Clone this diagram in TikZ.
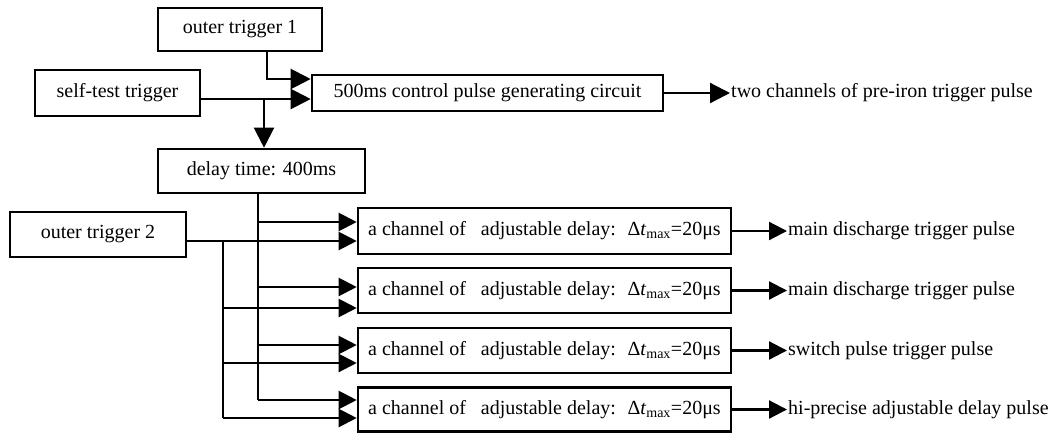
\documentclass[tikz,border=0pt]{standalone}
\usepackage{fontspec}
\setmainfont{Liberation Serif}
\usetikzlibrary{arrows.meta}
\newcommand\dtmax{Δ\textit{t}\textsubscript{max}=20μs}
\begin{document}
\begin{tikzpicture}[x=1pt,y=-1pt,
  box/.style={draw,line width=2.6pt,inner sep=0pt,font=\fontsize{20}{24}\selectfont},
  lbl/.style={anchor=west,inner sep=1pt,font=\fontsize{20}{24}\selectfont},
  wire/.style={line width=2.2pt},
  arr/.style={wire,-{Triangle[length=20pt,width=20pt]}},
  arrs/.style={wire,-{Triangle[length=18pt,width=18pt]}},
]
\useasboundingbox (0,0) rectangle (1049,434);

% trigger sources and first stage
\node[box,minimum width=164pt,minimum height=43pt] (ot1) at (240,29.5) {outer trigger 1};
\node[box,minimum width=165pt,minimum height=46pt] (st) at (117.5,93) {self-test trigger};
\node[box,minimum width=351pt,minimum height=36pt] (ctl) at (487.5,93) {500ms control pulse generating circuit};
\node[box,minimum width=207pt,minimum height=44pt] (dly) at (261.5,171) {delay time: 400ms};
\node[box,minimum width=176pt,minimum height=45pt] (ot2) at (98,234.5) {outer trigger 2};

% adjustable delay channels
\node[box,minimum width=373pt,minimum height=46pt] (ch1) at (544.5,231) {a channel of \ \ adjustable delay: \ \dtmax};
\node[box,minimum width=373pt,minimum height=45pt] (ch2) at (544.5,290.5) {a channel of \ \ adjustable delay: \ \dtmax};
\node[box,minimum width=373pt,minimum height=45pt] (ch3) at (544.5,350.5) {a channel of \ \ adjustable delay: \ \dtmax};
\node[box,minimum width=373pt,minimum height=44pt] (ch4) at (544.5,409.5) {a channel of \ \ adjustable delay: \ \dtmax};

% output labels
\node[lbl] (o0) at (730,93) {two channels of pre-iron trigger pulse};
\node[lbl] (o1) at (787,231) {main discharge trigger pulse};
\node[lbl] (o2) at (787,290.5) {main discharge trigger pulse};
\node[lbl] (o3) at (787,350.5) {switch pulse trigger pulse};
\node[lbl] (o4) at (787,409.5) {hi-precise adjustable delay pulse};

% junction points
\coordinate (j1) at (267,79);
\coordinate (j2) at (264,99);
\coordinate (trunkA) at (258,400);
\coordinate (trunkB) at (223,418);

% upper part
\draw[arr] (ot1.south -| j1) |- (ctl.west |- j1);
\draw[arr] (st.east |- j2) -- (ctl.west |- j2);
\draw[arr] (j2) -- (dly.north -| j2);
\draw[arr] (ctl.east) -- (o0.west);

% delayed trigger distribution
\draw[wire] (dly.south -| trunkA) -- (trunkA);
\foreach \i/\y in {1/222,2/287,3/345,4/400}
  \draw[arrs] (trunkA |- 0,\y) -- (ch\i.west |- 0,\y);

% outer trigger 2 distribution
\draw[arrs] (ot2.east |- 0,241) -- (ch1.west |- 0,241);
\draw[wire] (trunkB |- 0,241) -- (trunkB);
\foreach \i/\y in {2/308,3/363,4/418}
  \draw[arrs] (trunkB |- 0,\y) -- (ch\i.west |- 0,\y);

% channel outputs
\foreach \i in {1,2,3,4}
  \draw[arrs] (ch\i.east) -- (o\i.west);
\end{tikzpicture}
\end{document}
